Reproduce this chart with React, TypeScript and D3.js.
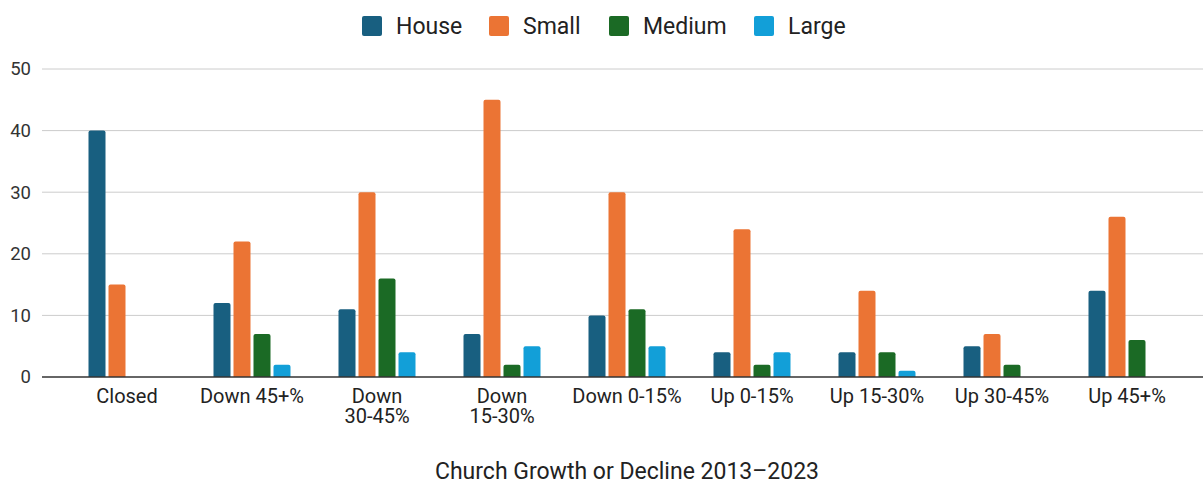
import { useEffect, useRef } from "react";
import * as d3 from "d3";

const categories = [
  "Closed",
  "Down 45+%",
  "Down 30-45%",
  "Down 15-30%",
  "Down 0-15%",
  "Up 0-15%",
  "Up 15-30%",
  "Up 30-45%",
  "Up 45+%",
];
// split labels as drawn under the axis
const categoryLines = [
  ["Closed"],
  ["Down 45+%"],
  ["Down", "30-45%"],
  ["Down", "15-30%"],
  ["Down 0-15%"],
  ["Up 0-15%"],
  ["Up 15-30%"],
  ["Up 30-45%"],
  ["Up 45+%"],
];

const seriesNames = ["House", "Small", "Medium", "Large"];
const seriesColors = ["#185f80", "#eb7434", "#1b6a25", "#129fd8"];

const house = [40, 12, 11, 7, 10, 4, 4, 5, 14];
const small = [15, 22, 30, 45, 30, 24, 14, 7, 26];
const medium = [0, 7, 16, 2, 11, 2, 4, 2, 6];
const large = [0, 2, 4, 5, 5, 4, 1, 0, 0];

const yTicks = [0, 10, 20, 30, 40, 50];
const title = "Church Growth or Decline 2013\u20132023";

const W = 1203;
const H = 481;

const App = () => {
  const svgRef = useRef<SVGSVGElement>(null);

  useEffect(() => {
    if (!svgRef.current) return;
    const svg = d3.select(svgRef.current);
    svg.selectAll("*").remove();

    const font = "Roboto, 'Noto Sans', sans-serif";
    const values = [house, small, medium, large];

    const y = d3.scaleLinear().domain([0, 50]).range([377, 69]);
    const x0 = d3.scaleBand().domain(categories).range([64.5, 1189.5]);
    const groupW = 77;
    const x1 = d3
      .scaleBand()
      .domain(seriesNames)
      .range([0, groupW])
      .paddingInner(0.15);

    // Gridlines
    svg
      .selectAll("line.grid")
      .data(yTicks.filter((t) => t !== 0))
      .join("line")
      .attr("class", "grid")
      .attr("x1", 42)
      .attr("x2", W)
      .attr("y1", (d) => y(d))
      .attr("y2", (d) => y(d))
      .attr("stroke", "#cccccc")
      .attr("stroke-width", 1);

    // Y tick labels
    svg
      .selectAll("text.ytick")
      .data(yTicks)
      .join("text")
      .attr("class", "ytick")
      .attr("x", 31)
      .attr("y", (d) => y(d))
      .attr("dy", "0.35em")
      .attr("text-anchor", "end")
      .attr("font-family", font)
      .attr("font-size", 18.5)
      .attr("fill", "#333")
      .text((d) => d);

    // Bars (rounded top corners)
    const r = 2;
    const barPath = (xl: number, w: number, yTop: number, yBase: number) => {
      if (yBase - yTop < r) return `M${xl},${yBase}h${w}V${yTop}H${xl}Z`;
      return `M${xl},${yBase}V${yTop + r}Q${xl},${yTop} ${xl + r},${yTop}H${
        xl + w - r
      }Q${xl + w},${yTop} ${xl + w},${yTop + r}V${yBase}Z`;
    };

    const bars: { cat: string; s: string; v: number; c: string }[] = [];
    categories.forEach((cat, i) => {
      seriesNames.forEach((s, j) => {
        bars.push({ cat, s, v: values[j][i], c: seriesColors[j] });
      });
    });

    svg
      .selectAll("path.bar")
      .data(bars.filter((d) => d.v > 0))
      .join("path")
      .attr("class", "bar")
      .attr("fill", (d) => d.c)
      .attr("d", (d) => {
        const cx = x0(d.cat)! + x0.bandwidth() / 2;
        const xl = cx - groupW / 2 + x1(d.s)!;
        return barPath(xl, x1.bandwidth(), y(d.v), y(0));
      });

    // Baseline
    svg
      .append("line")
      .attr("x1", 42)
      .attr("x2", W)
      .attr("y1", y(0))
      .attr("y2", y(0))
      .attr("stroke", "#333")
      .attr("stroke-width", 1.5);

    // X labels, one text per line
    const xLabelLines: { x: number; line: string; k: number }[] = [];
    categories.forEach((c, i) => {
      categoryLines[i].forEach((line, k) => {
        xLabelLines.push({ x: x0(c)! + x0.bandwidth() / 2, line, k });
      });
    });
    svg
      .selectAll("text.xlab")
      .data(xLabelLines)
      .join("text")
      .attr("class", "xlab")
      .attr("x", (d) => d.x)
      .attr("y", (d) => 403 + d.k * 20)
      .attr("text-anchor", "middle")
      .attr("font-family", font)
      .attr("font-size", 20)
      .attr("fill", "#222")
      .text((d) => d.line);

    // Legend
    const legendItems = [
      { name: seriesNames[0], x: 362 },
      { name: seriesNames[1], x: 489 },
      { name: seriesNames[2], x: 609 },
      { name: seriesNames[3], x: 754 },
    ];
    const lg = svg
      .selectAll("g.legend")
      .data(legendItems)
      .join("g")
      .attr("class", "legend")
      .attr("transform", (d) => `translate(${d.x},16)`);
    lg.append("rect")
      .attr("width", 20)
      .attr("height", 20)
      .attr("rx", 2)
      .attr("fill", (_, i) => seriesColors[i]);
    lg.append("text")
      .attr("x", 34)
      .attr("y", 10)
      .attr("dy", "0.35em")
      .attr("font-family", font)
      .attr("font-size", 23)
      .attr("fill", "#222")
      .text((d) => d.name);

    // Title
    svg
      .append("text")
      .attr("x", 627)
      .attr("y", 479)
      .attr("text-anchor", "middle")
      .attr("font-family", font)
      .attr("font-size", 23)
      .attr("fill", "#222")
      .text(title);
  }, []);

  return (
    <svg
      ref={svgRef}
      width={W}
      height={H}
      style={{ position: "absolute", left: 0, top: 0, background: "#fff" }}
    />
  );
};

export default App;
